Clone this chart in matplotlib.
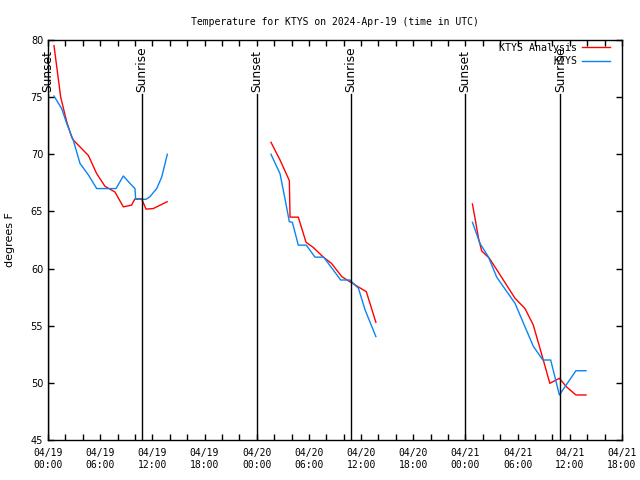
import matplotlib
matplotlib.use("Agg")
import matplotlib.pyplot as plt
from matplotlib.ticker import FixedLocator, FuncFormatter

# hours since 2024-04-19 00:00 UTC
ANALYSIS_HOURS = [0.69, 1.46, 2.15, 2.72, 2.9, 4.64, 5.6, 6.55, 7.7, 8.66, 9.6, 10.0, 10.77,
                  11.27, 12.1, 12.9, 13.7,
                  None,
                  25.64, 26.68, 27.75, 27.83, 28.78, 29.67, 30.5, 31.66, 32.6, 33.77, 34.7,
                  35.68, 36.6, 37.7,
                  None,
                  48.8, 49.1, 49.5, 49.87, 50.75, 51.6, 53.7, 54.85, 55.8, 56.95, 57.7, 58.8,
                  59.6, 60.7, 61.86]
ANALYSIS_TEMPS = [79.5, 75.0, 72.85, 71.5, 71.25, 69.9, 68.3, 67.2, 66.7, 65.4, 65.55, 66.1, 66.1,
                  65.2, 65.25, 65.55, 65.85,
                  None,
                  71.05, 69.5, 67.7, 64.5, 64.5, 62.3, 61.85, 61.0, 60.45, 59.3, 58.85,
                  58.4, 57.98, 55.3,
                  None,
                  65.65, 64.4, 62.65, 61.54, 60.9, 59.9, 57.4, 56.5, 55.06, 52.0, 49.96, 50.4,
                  49.66, 48.94, 48.94]

OBS_HOURS = [0.69, 1.57, 2.15, 2.9, 3.68, 4.64, 5.6, 7.82, 8.66, 9.43, 10.0, 10.08, 11.27,
             11.73, 12.5, 13.07, 13.72,
             None,
             25.64, 26.68, 27.2, 27.75, 28.1, 28.78, 29.7, 30.7, 31.7, 33.65, 34.7, 35.7,
             36.45, 37.7,
             None,
             48.8, 49.67, 50.63, 51.6, 53.7, 55.8, 56.9, 57.8, 58.8, 60.7, 61.86]
OBS_TEMPS = [75.1, 74.0, 72.7, 71.25, 69.2, 68.2, 67.0, 67.0, 68.1, 67.45, 67.0, 66.06, 66.06,
             66.3, 67.0, 68.0, 70.0,
             None,
             70.0, 68.3, 66.3, 64.1, 64.05, 62.05, 62.05, 61.0, 61.0, 59.0, 59.0, 58.27,
             56.4, 54.05,
             None,
             64.05, 62.2, 61.04, 59.24, 56.96, 53.2, 52.0, 52.0, 48.94, 51.06, 51.06]

SUN_EVENTS = ["Sunset", "Sunrise", "Sunset", "Sunrise", "Sunset", "Sunrise"]
SUN_HOURS = [0.0, 10.8, 24.0, 34.85, 47.95, 58.9]

DAYS = ["04/19", "04/20", "04/21"]

MONO = "DejaVu Sans Mono"


def nan_list(values):
    return [float("nan") if v is None else v for v in values]


def hour_label(h, _pos):
    h = int(round(h))
    if h % 6:
        return ""
    return f"{DAYS[h // 24]}\n{h % 24:02d}:00"


fig = plt.figure(figsize=(6.4, 4.8), dpi=100)
ax = fig.add_axes([48 / 640, 40 / 480, 574 / 640, 400 / 480])

ax.plot(nan_list(ANALYSIS_HOURS), nan_list(ANALYSIS_TEMPS), color="#ff0000", lw=1.0,
        label="KTYS Analysis")
ax.plot(nan_list(OBS_HOURS), nan_list(OBS_TEMPS), color="#0a84f0", lw=1.0, label="KTYS")

for name, h in zip(SUN_EVENTS, SUN_HOURS):
    ax.plot([h, h], [45, 75.3], color="black", lw=1.0)
    ax.text(h, 75.45, name, rotation=90, ha="center", va="bottom", fontsize=8.8)

ax.set_xlim(0, 66)
ax.set_ylim(45, 80)
ax.xaxis.set_major_locator(FixedLocator(range(0, 67, 2)))
ax.xaxis.set_major_formatter(FuncFormatter(hour_label))
ax.set_yticks(range(45, 81, 5))
ax.tick_params(direction="in", length=4, width=1, top=True, right=True, labelsize=7)
for lab in ax.get_xticklabels():
    lab.set_fontfamily(MONO)
ax.tick_params(axis="x", pad=6)
for side in ax.spines.values():
    side.set_linewidth(1.0)

ax.set_ylabel("degrees F", fontsize=8)
ax.yaxis.set_label_coords(-0.057, 0.5)
ax.set_title("Temperature for KTYS on 2024-Apr-19 (time in UTC)", fontsize=7,
             family=MONO, pad=11)

leg = ax.legend(loc="upper right", frameon=False, markerfirst=False,
                prop={"family": MONO, "size": 7.2}, handlelength=2.8, handletextpad=0.5,
                borderaxespad=0.1, borderpad=0.2, labelspacing=0.35,
                bbox_to_anchor=(0.985, 1.0))
for t in leg.get_texts():
    t.set_ha("right")

fig.savefig("out.png", dpi=100)
